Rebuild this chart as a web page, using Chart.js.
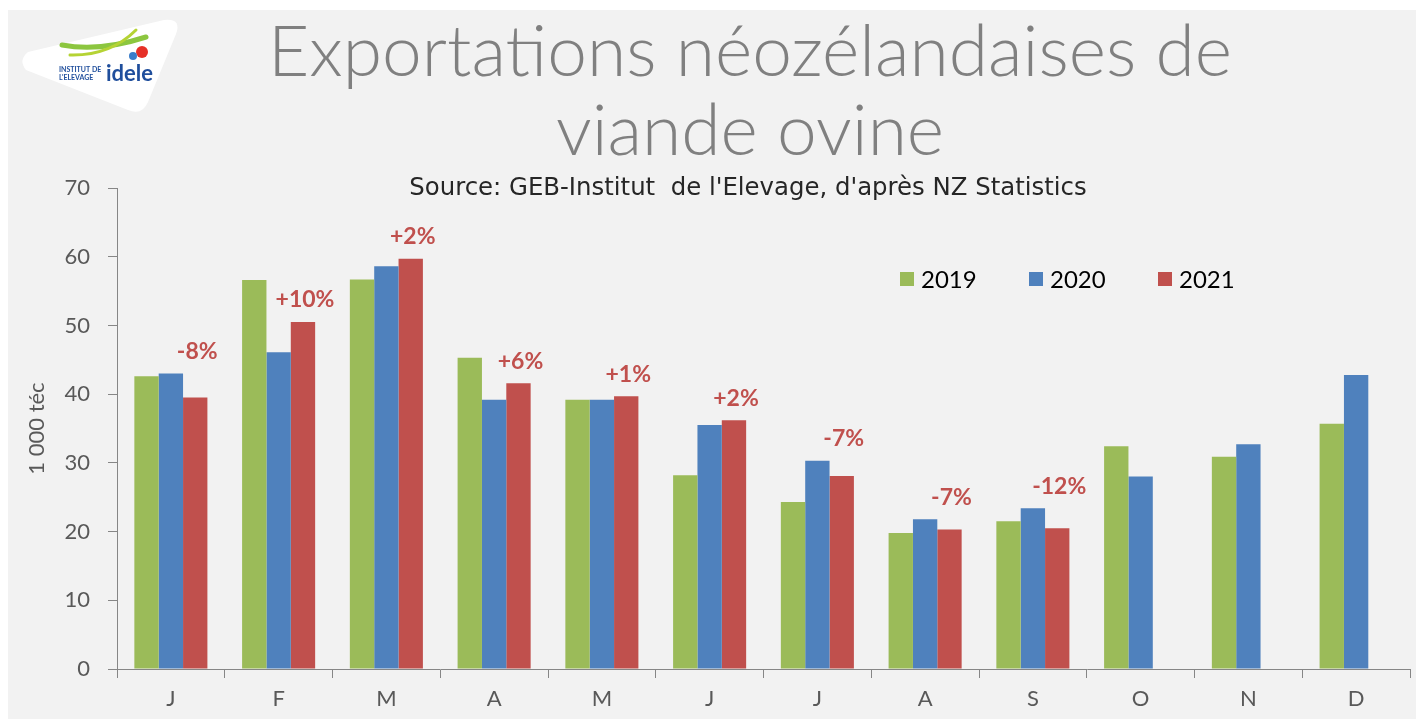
<!DOCTYPE html>
<html lang="fr">
<head>
<meta charset="UTF-8">
<title>Exportations néozélandaises de viande ovine</title>
<script src="https://cdn.jsdelivr.net/npm/chart.js"></script>
<style>
  html, body { margin: 0; padding: 0; background: #fff; }
  #wrap { width: 1416px; height: 719px; }
</style>
</head>
<body>
<div id="wrap"><canvas id="chart" width="1416" height="719"></canvas></div>
<script>
// données (1 000 téc)
const months = ['J', 'F', 'M', 'A', 'M', 'J', 'J', 'A', 'S', 'O', 'N', 'D'];
const years = ['2019', '2020', '2021'];
const exp2019 = [42.6, 56.6, 56.7, 45.3, 39.2, 28.2, 24.3, 19.8, 21.5, 32.4, 30.9, 35.7];
const exp2020 = [43.0, 46.1, 58.6, 39.2, 39.2, 35.5, 30.3, 21.8, 23.4, 28.0, 32.7, 42.8];
const exp2021 = [39.5, 50.5, 59.7, 41.6, 39.7, 36.2, 28.1, 20.3, 20.5, null, null, null];
const evolution = ['-8%', '+10%', '+2%', '+6%', '+1%', '+2%', '-7%', '-7%', '-12%', null, null, null];
const yTicks = [0, 10, 20, 30, 40, 50, 60, 70];

const colors = ['#9bbb59', '#4f81bd', '#c0504d'];
const axisColor = '#868686';
const textGrey = '#595959';
const FONT = 'Lato, "DejaVu Sans", sans-serif';

// ajuste une taille de police pour qu'un texte fasse la largeur voulue
function fitFont(ctx, text, weight, family, width) {
  ctx.font = weight + ' 50px ' + family;
  const size = 50 * width / ctx.measureText(text).width;
  ctx.font = weight + ' ' + size.toFixed(1) + 'px ' + family;
}

// fond gris + logo + titres
const decor = {
  id: 'decor',
  beforeDraw(chart) {
    const ctx = chart.ctx;
    ctx.save();
    ctx.fillStyle = '#fff';
    ctx.fillRect(0, 0, chart.width, chart.height);
    ctx.fillStyle = '#f2f2f2';
    ctx.fillRect(8, 10, chart.width - 8, chart.height - 10);

    // logo
    ctx.fillStyle = '#ffffff';
    ctx.beginPath();
    ctx.moveTo(28, 52);
    ctx.quadraticCurveTo(18, 60, 26, 70);
    ctx.lineTo(128, 110);
    ctx.quadraticCurveTo(142, 116, 148, 102);
    ctx.lineTo(176, 34);
    ctx.quadraticCurveTo(182, 18, 164, 20);
    ctx.closePath();
    ctx.fill();

    ctx.strokeStyle = '#8cc63f';
    ctx.lineWidth = 5;
    ctx.lineCap = 'round';
    ctx.beginPath();
    ctx.moveTo(62, 45);
    ctx.quadraticCurveTo(100, 52, 146, 37);
    ctx.stroke();
    ctx.strokeStyle = '#b5d334';
    ctx.lineWidth = 3;
    ctx.beginPath();
    ctx.moveTo(70, 55);
    ctx.quadraticCurveTo(110, 56, 136, 30);
    ctx.stroke();
    ctx.fillStyle = '#e63027';
    ctx.beginPath();
    ctx.arc(142, 52, 6, 0, Math.PI * 2);
    ctx.fill();
    ctx.fillStyle = '#3a7dc9';
    ctx.beginPath();
    ctx.arc(133, 56, 4, 0, Math.PI * 2);
    ctx.fill();

    ctx.fillStyle = '#1f4e9c';
    ctx.textAlign = 'left';
    ctx.textBaseline = 'alphabetic';
    ctx.font = 'bold 7px ' + FONT;
    ctx.fillText('INSTITUT DE', 59, 72);
    ctx.fillText("L'ELEVAGE", 59, 80);
    ctx.font = 'bold 22px ' + FONT;
    ctx.fillText('idele', 106, 81);

    // titre
    ctx.fillStyle = '#808080';
    ctx.textAlign = 'center';
    fitFont(ctx, 'Exportations néozélandaises de', '300', FONT, 964);
    ctx.fillText('Exportations néozélandaises de', 750, 76);
    ctx.fillText('viande ovine', 750, 155);

    // source
    const src = "Source: GEB-Institut  de l'Elevage, d'après NZ Statistics";
    ctx.fillStyle = '#262626';
    fitFont(ctx, src, 'normal', '"DejaVu Sans", sans-serif', 677);
    ctx.fillText(src, 748, 195);
    ctx.restore();
  }
};

// étiquettes d'évolution 2021/2020 + légende
const overlay = {
  id: 'overlay',
  afterDatasetsDraw(chart) {
    const ctx = chart.ctx;
    const y = chart.scales.y;
    const redBars = chart.getDatasetMeta(2).data;
    ctx.save();
    ctx.fillStyle = colors[2];
    ctx.font = 'bold 23px ' + FONT;
    ctx.textAlign = 'center';
    ctx.textBaseline = 'middle';
    evolution.forEach((txt, i) => {
      if (!txt) return;
      const top = Math.max(exp2020[i], exp2021[i]);
      ctx.fillText(txt, redBars[i].x + 2, y.getPixelForValue(top) - 22);
    });

    // légende
    const legendX = [900, 1029, 1158];
    ctx.font = '24px ' + FONT;
    ctx.textAlign = 'left';
    years.forEach((yr, i) => {
      ctx.fillStyle = colors[i];
      ctx.fillRect(legendX[i], 272, 14, 14);
      ctx.fillStyle = '#000';
      ctx.fillText(yr, legendX[i] + 21, 280);
    });
    ctx.restore();
  }
};

new Chart(document.getElementById('chart'), {
  type: 'bar',
  data: {
    labels: months,
    datasets: [
      { label: years[0], data: exp2019, backgroundColor: colors[0] },
      { label: years[1], data: exp2020, backgroundColor: colors[1] },
      { label: years[2], data: exp2021, backgroundColor: colors[2] }
    ]
  },
  options: {
    responsive: false,
    animation: false,
    devicePixelRatio: 1,
    layout: { padding: { top: 188, right: 6, left: 0, bottom: 0 } },
    datasets: { bar: { categoryPercentage: 0.678, barPercentage: 1, borderWidth: 0 } },
    plugins: {
      legend: { display: false },
      title: { display: false },
      tooltip: { enabled: false }
    },
    scales: {
      x: {
        grid: { offset: true, drawOnChartArea: false, color: axisColor, tickLength: 9 },
        border: { color: axisColor },
        ticks: { color: textGrey, font: { family: FONT, size: 22 }, padding: 8 },
        afterFit(scale) { scale.height = 50; }
      },
      y: {
        min: 0,
        max: 70,
        afterBuildTicks(scale) { scale.ticks = yTicks.map(v => ({ value: v })); },
        grid: { drawOnChartArea: false, color: axisColor, tickLength: 9 },
        border: { color: axisColor },
        ticks: { color: textGrey, font: { family: FONT, size: 22 }, padding: 18 },
        title: {
          display: true,
          text: '1 000 téc',
          color: textGrey,
          font: { family: FONT, size: 22 },
          padding: { top: 24, bottom: 0 }
        },
        afterFit(scale) { scale.width = 117; }
      }
    }
  },
  plugins: [decor, overlay]
});
</script>
</body>
</html>
